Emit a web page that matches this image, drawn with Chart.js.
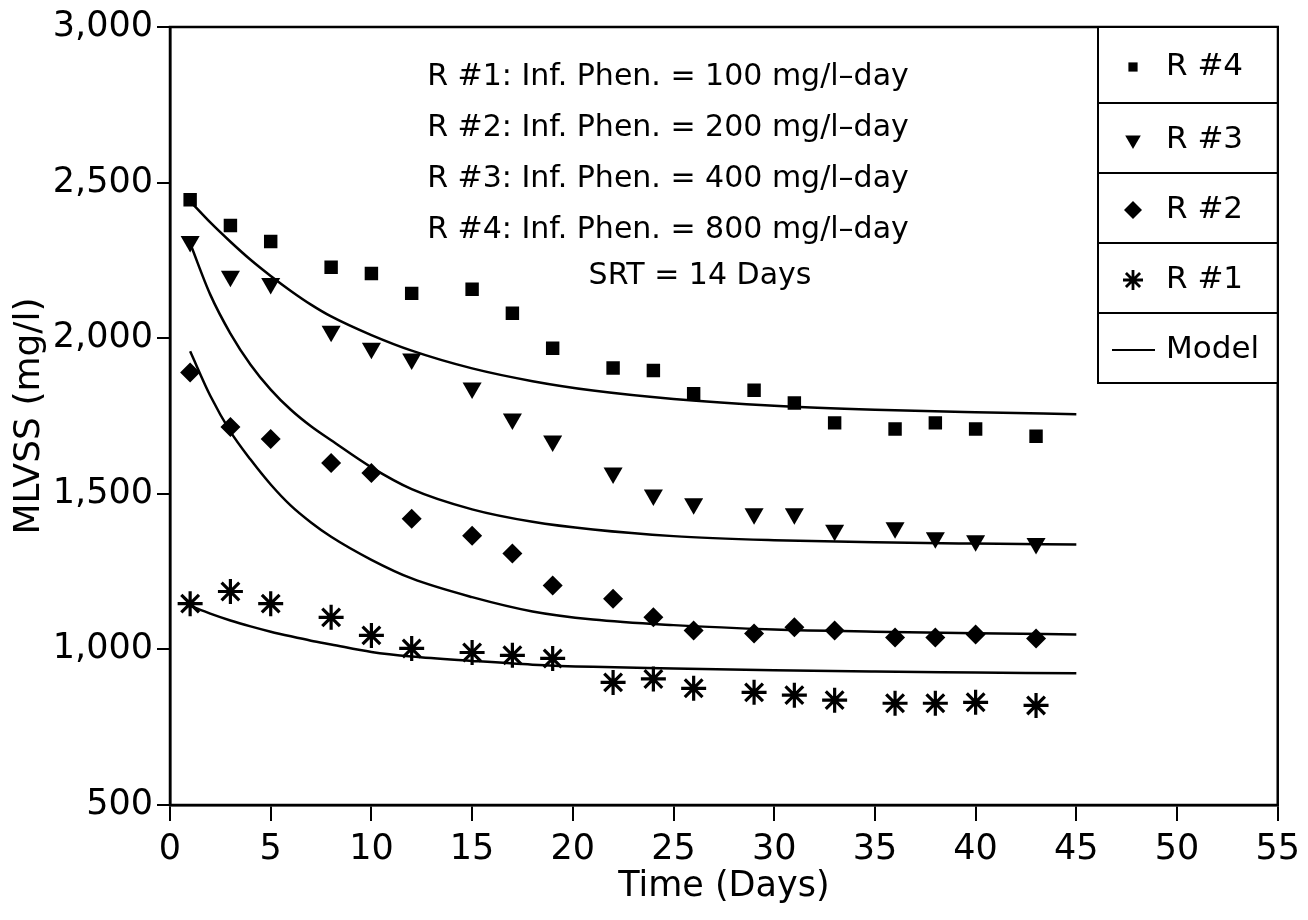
<!DOCTYPE html>
<html lang="en">
<head>
<meta charset="UTF-8">
<title>MLVSS vs Time</title>
<style>
    html, body { margin: 0; padding: 0; background: #fff; }
    #wrap { width: 1308px; height: 920px; }
</style>
</head>
<body>
<div id="wrap"><canvas id="mlvssChart"></canvas></div>
<script src="https://cdn.jsdelivr.net/npm/chart.js"></script>
<script>
    // measured days
    const days = [1, 3, 5, 8, 10, 12, 15, 17, 19, 22, 24, 26, 29, 31, 33, 36, 38, 40, 43];
    const r4 = [2445, 2362, 2311, 2228, 2208, 2144, 2157, 2080, 1968, 1904, 1896, 1822, 1833, 1792, 1728, 1708, 1728, 1708, 1685];
    const r3 = [2311, 2199, 2176, 2022, 1968, 1933, 1840, 1740, 1670, 1567, 1496, 1468, 1436, 1436, 1383, 1391, 1359, 1349, 1340];
    const r2 = [1890, 1715, 1676, 1599, 1567, 1420, 1365, 1308, 1205, 1163, 1103, 1061, 1051, 1071, 1061, 1038, 1038, 1048, 1035];
    const r1 = [1147, 1186, 1147, 1103, 1045, 1003, 990, 981, 971, 894, 905, 875, 862, 853, 837, 827, 827, 830, 820];

    // model curves
    const modelDays = [1, 2, 3, 4, 5, 6, 7, 8, 10, 12, 15, 18, 21, 25, 30, 35, 40, 45];
    const model4 = [2440, 2372, 2310, 2252, 2200, 2152, 2108, 2070, 2010, 1960, 1903, 1862, 1832, 1805, 1783, 1770, 1762, 1756];
    const model3 = [2305, 2140, 2015, 1915, 1835, 1770, 1717, 1672, 1585, 1515, 1450, 1410, 1385, 1364, 1351, 1344, 1340, 1337];
    const model2 = [1958, 1815, 1700, 1610, 1530, 1462, 1408, 1362, 1288, 1228, 1168, 1122, 1096, 1078, 1064, 1057, 1052, 1048];
    const model1 = [1140, 1115, 1093, 1074, 1057, 1042, 1028, 1016, 992, 977, 963, 951, 944, 939, 933, 929, 926, 923];

    const xTicks = [0, 5, 10, 15, 20, 25, 30, 35, 40, 45, 50, 55];
    const yTicks = [500, 1000, 1500, 2000, 2500, 3000];

    const notes = [
        "R #1: Inf. Phen. = 100 mg/l\u2013day",
        "R #2: Inf. Phen. = 200 mg/l\u2013day",
        "R #3: Inf. Phen. = 400 mg/l\u2013day",
        "R #4: Inf. Phen. = 800 mg/l\u2013day"
    ];
    const srtNote = "SRT = 14 Days";

    const FONT = "'DejaVu Sans', sans-serif";

    function pts(xs, ys) {
        return xs.map((x, i) => ({ x: x, y: ys[i] }));
    }

    const markerSets = [
        { label: "R #4", data: r4, style: "rect", radius: 9.5, rot: 0, bw: 0, legendR: 6.5 },
        { label: "R #3", data: r3, style: "triangle", radius: 11, rot: 180, bw: 0, legendR: 9 },
        { label: "R #2", data: r2, style: "rectRot", radius: 10, rot: 0, bw: 0, legendR: 9 },
        { label: "R #1", data: r1, style: "star", radius: 12.5, rot: 0, bw: 3.2, legendR: 10 }
    ];

    const datasets = markerSets.map(m => ({
        label: m.label,
        data: pts(days, m.data),
        showLine: false,
        pointStyle: m.style,
        pointRadius: m.radius,
        pointRotation: m.rot,
        pointBackgroundColor: "#000",
        pointBorderColor: "#000",
        pointBorderWidth: m.bw
    }));

    [model4, model3, model2, model1].forEach(m => {
        datasets.push({
            label: "Model",
            data: pts(modelDays, m),
            showLine: true,
            borderColor: "#000",
            borderWidth: 2.5,
            pointRadius: 0,
            cubicInterpolationMode: "monotone",
            fill: false
        });
    });

    // frame, notes and boxed legend
    const decor = {
        id: "decor",
        afterDraw(chart) {
            const ctx = chart.ctx;
            const a = chart.chartArea;
            ctx.save();
            ctx.strokeStyle = "#000";
            ctx.lineWidth = 2.5;
            ctx.strokeRect(a.left, a.top, a.right - a.left, a.bottom - a.top);

            ctx.fillStyle = "#000";
            ctx.font = "30px " + FONT;
            ctx.textAlign = "center";
            ctx.textBaseline = "middle";
            notes.forEach((t, i) => ctx.fillText(t, 668, 77 + i * 51));
            ctx.fillText(srtNote, 700, 276);

            // legend box
            const bx = 1098, by = a.top, bw = a.right - bx;
            const rows = [by, 103, 173, 243, 313, 383];
            const labels = markerSets.map(m => m.label).concat(["Model"]);
            ctx.fillStyle = "#fff";
            ctx.fillRect(bx, by, bw, rows[5] - by);
            ctx.lineWidth = 2;
            ctx.strokeRect(bx, by, bw, rows[5] - by);
            for (let i = 1; i < 5; i++) {
                ctx.beginPath();
                ctx.moveTo(bx, rows[i]);
                ctx.lineTo(bx + bw, rows[i]);
                ctx.stroke();
            }
            ctx.font = "31px " + FONT;
            ctx.textAlign = "left";
            labels.forEach((t, i) => {
                const cy = (rows[i] + rows[i + 1]) / 2 + 2;
                ctx.fillStyle = "#000";
                ctx.strokeStyle = "#000";
                if (i < 4) {
                    const m = markerSets[i];
                    ctx.lineWidth = m.bw ? 2.8 : 0;
                    Chart.helpers.drawPoint(ctx, {
                        pointStyle: m.style, radius: m.legendR, rotation: m.rot, borderWidth: m.bw ? 2.8 : 0
                    }, 1133, cy);
                } else {
                    ctx.lineWidth = 2;
                    ctx.beginPath();
                    ctx.moveTo(1112, cy);
                    ctx.lineTo(1155, cy);
                    ctx.stroke();
                }
                ctx.fillStyle = "#000";
                ctx.fillText(t, 1166, cy);
            });
            ctx.restore();
        }
    };

    new Chart(document.getElementById("mlvssChart"), {
        type: "scatter",
        data: { datasets: datasets },
        options: {
            responsive: true,
            maintainAspectRatio: false,
            animation: false,
            layout: { padding: { top: 27, right: 30, left: 0, bottom: 0 } },
            plugins: { legend: { display: false }, tooltip: { enabled: false } },
            scales: {
                x: {
                    type: "linear",
                    min: 0, max: 55,
                    afterBuildTicks: s => { s.ticks = xTicks.map(v => ({ value: v })); },
                    afterFit: s => { s.height = 115; },
                    ticks: { color: "#000", font: { family: FONT, size: 35 }, padding: 8 },
                    grid: { drawOnChartArea: false, drawTicks: true, tickLength: 16, color: "#000", lineWidth: 2 },
                    border: { display: true, color: "#000", width: 2.5 },
                    title: { display: true, text: "Time (Days)", color: "#000", font: { family: FONT, size: 35 }, padding: { top: 0, bottom: 12 } }
                },
                y: {
                    type: "linear",
                    min: 500, max: 3000,
                    afterBuildTicks: s => { s.ticks = yTicks.map(v => ({ value: v })); },
                    afterFit: s => { s.width = 170; },
                    ticks: { color: "#000", font: { family: FONT, size: 35 }, padding: 4,
                        callback: v => v.toLocaleString("en-US") },
                    grid: { drawOnChartArea: false, drawTicks: true, tickLength: 13, color: "#000", lineWidth: 2 },
                    border: { display: true, color: "#000", width: 2.5 },
                    title: { display: true, text: "MLVSS (mg/l)", color: "#000", font: { family: FONT, size: 36 }, padding: { top: 8, bottom: 0 } }
                }
            }
        },
        plugins: [decor]
    });
</script>
</body>
</html>
